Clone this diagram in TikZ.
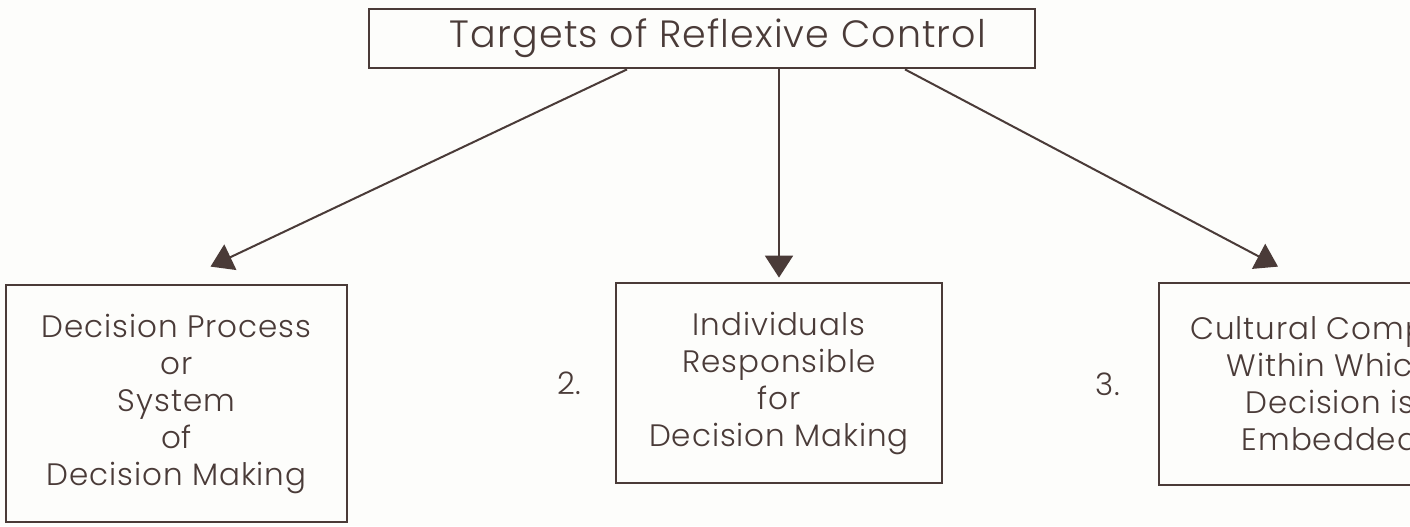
\documentclass[tikz,border=0pt]{standalone}
\usepackage{fontspec}
\setmainfont{Poppins}[UprightFont={* Light}, LetterSpace=3]
\usepackage{xcolor}
\definecolor{ink}{HTML}{4A3B38}
\definecolor{paper}{HTML}{FDFDFB}
\usepackage{tikz}
\usetikzlibrary{arrows.meta,positioning}

\begin{document}
\begin{tikzpicture}[x=0.5pt, y=-0.5pt,
    head/.style={rectangle, draw=ink, text=ink, line width=1.4pt, minimum width=333pt, minimum height=29.5pt, font=\fontsize{19}{24}\selectfont},
    target/.style={rectangle, draw=ink, text=ink, line width=1.4pt, align=center, font=\fontsize{15.5}{18.5}\selectfont},
    num/.style={text=ink, font=\fontsize{15.5}{18.5}\selectfont},
    arr/.style={-{Triangle[length=11pt, width=14pt]}, draw=ink, line width=1pt}
  ]
    \fill[paper] (0,0) rectangle (1410,526);
    \useasboundingbox (0,0) rectangle (1410,526);
    \clip (0,0) rectangle (1410,526);

    \node[head] (title) at (702, 38.5) {\hspace*{16pt}Targets of Reflexive Control};

    \node[target, minimum width=170.5pt, minimum height=118.5pt] (process) at (176.5, 403.5) {Decision Process\\or\\System\\of\\Decision Making};
    \node[target, minimum width=163pt, minimum height=100pt] (people) at (779, 383) {Individuals\\Responsible\\for\\Decision Making};
    \node[target, minimum width=171pt, minimum height=101pt] (culture) at (1330, 384) {Cultural Complex\\Within Which\\Decision is\\Embedded};

    \node[num, left=15pt of culture] (n3) {3.};
    \node[num, left=13pt of people] (n2) {2.};

    \draw[arr] ([xshift=-37.5pt]title.south) -- ([xshift=17pt, yshift=8.5pt]process.north);
    \draw[arr] (title.south -| people.north) -- ([yshift=2pt]people.north);
    \draw[arr] ([xshift=101.5pt]title.south) -- ([xshift=-26pt, yshift=7.5pt]culture.north);
  \end{tikzpicture}
\end{document}
